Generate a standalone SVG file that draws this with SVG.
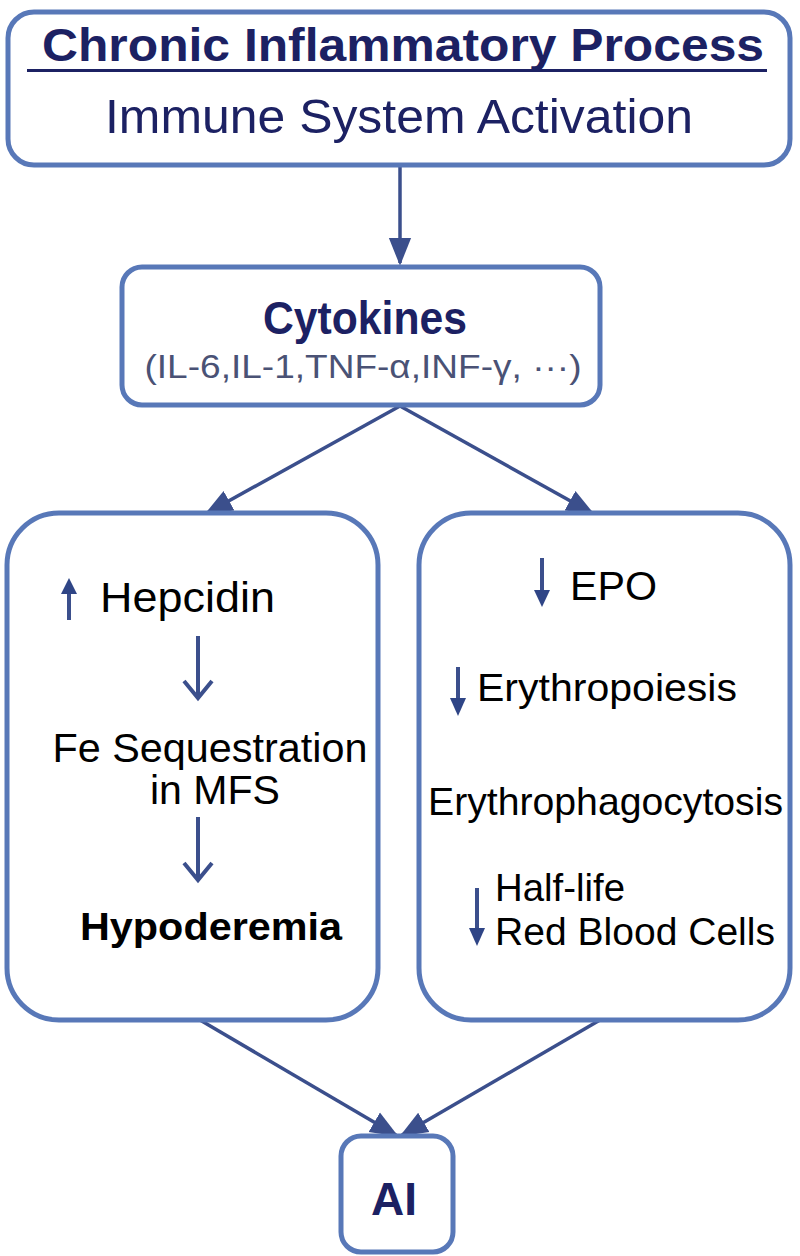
<svg xmlns="http://www.w3.org/2000/svg" width="800" height="1256" viewBox="0 0 800 1256">
<defs>
<style>
.box{fill:#fff;stroke:#5878b8;stroke-width:5}
.con{stroke:#3b4f8c;stroke-width:3.5;fill:none}
.navy{fill:#1c2163;font-family:"Liberation Sans",Arial,sans-serif}
.blk{fill:#000;font-family:"Liberation Sans",Arial,sans-serif}
.ico{stroke:#3b4f8c;stroke-width:4;fill:none}
</style>
<marker id="big" viewBox="0 0 10 10" refX="9" refY="5" markerWidth="8" markerHeight="8" orient="auto">
<path d="M0,1 L10,5 L0,9 z" fill="#3b4f8c"/>
</marker>
</defs>
<rect width="800" height="1256" fill="#fff"/>

<g id="connectors">
<line class="con" x1="400" y1="166" x2="400" y2="263" marker-end="url(#big)"/>
<line class="con" x1="400" y1="406" x2="207" y2="513" marker-end="url(#big)"/>
<line class="con" x1="400" y1="406" x2="592" y2="513" marker-end="url(#big)"/>
<line class="con" x1="200" y1="1020" x2="396" y2="1135" marker-end="url(#big)"/>
<line class="con" x1="600" y1="1020" x2="402" y2="1135" marker-end="url(#big)"/>
</g>

<g id="n-chronic">
<rect class="box" x="8" y="12" width="782" height="153" rx="26"/>
<text class="navy" x="403" y="61" font-size="46" font-weight="bold" text-anchor="middle" textLength="722" lengthAdjust="spacingAndGlyphs">Chronic Inflammatory Process</text>
<rect x="27" y="69" width="740" height="3" fill="#1c2163"/>
<text class="navy" x="399" y="133" font-size="49" text-anchor="middle" textLength="588" lengthAdjust="spacingAndGlyphs">Immune System Activation</text>
</g>

<g id="n-cytokines">
<rect class="box" x="122" y="267" width="478" height="138" rx="20"/>
<text class="navy" x="365" y="334" font-size="46" font-weight="bold" text-anchor="middle" textLength="204" lengthAdjust="spacingAndGlyphs">Cytokines</text>
<text x="363" y="378" font-size="34" text-anchor="middle" fill="#4a5275" font-family="'Liberation Sans',Arial,sans-serif" textLength="437" lengthAdjust="spacingAndGlyphs">(IL-6,IL-1,TNF-α,INF-γ, ···)</text>
</g>

<g id="n-left">
<rect class="box" x="7" y="513" width="371" height="507" rx="52"/>
<line class="ico" x1="69" y1="620" x2="69" y2="588"/>
<path d="M61,594 L69,578 L77,594 z" fill="#2f4586"/>
<text class="blk" x="100" y="612" font-size="42" textLength="175" lengthAdjust="spacingAndGlyphs">Hepcidin</text>
<line class="ico" x1="198" y1="636" x2="198" y2="697"/>
<path class="ico" stroke-width="5" d="M184,681 L198,698 L212,681"/>
<text class="blk" x="210" y="762" font-size="41" text-anchor="middle" textLength="315" lengthAdjust="spacingAndGlyphs">Fe Sequestration</text>
<text class="blk" x="215" y="804" font-size="41" text-anchor="middle" textLength="130" lengthAdjust="spacingAndGlyphs">in MFS</text>
<line class="ico" x1="198" y1="817" x2="198" y2="879"/>
<path class="ico" stroke-width="5" d="M184,863 L198,880 L212,863"/>
<text class="blk" x="211" y="940" font-size="39" font-weight="bold" text-anchor="middle" textLength="262" lengthAdjust="spacingAndGlyphs">Hypoderemia</text>
</g>

<g id="n-right">
<rect class="box" x="419" y="513" width="371" height="507" rx="52"/>
<line class="ico" x1="542" y1="558" x2="542" y2="594"/>
<path d="M534,590 L542,607 L550,590 z" fill="#2f4586"/>
<text class="blk" x="570" y="600" font-size="41" textLength="87" lengthAdjust="spacingAndGlyphs">EPO</text>
<line class="ico" x1="458" y1="667" x2="458" y2="702"/>
<path d="M450,698 L458,716 L466,698 z" fill="#2f4586"/>
<text class="blk" x="477" y="701" font-size="39" textLength="260" lengthAdjust="spacingAndGlyphs">Erythropoiesis</text>
<text class="blk" x="428" y="815" font-size="39" textLength="355" lengthAdjust="spacingAndGlyphs">Erythrophagocytosis</text>
<line class="ico" x1="477" y1="888" x2="477" y2="932"/>
<path d="M469,928 L477,946 L485,928 z" fill="#2f4586"/>
<text class="blk" x="495" y="901" font-size="39" textLength="130" lengthAdjust="spacingAndGlyphs">Half-life</text>
<text class="blk" x="495" y="945" font-size="39" textLength="280" lengthAdjust="spacingAndGlyphs">Red Blood Cells</text>
</g>

<g id="n-ai">
<rect class="box" x="341" y="1136" width="112" height="116" rx="20"/>
<text class="navy" x="394" y="1215" font-size="46" font-weight="bold" text-anchor="middle">AI</text>
</g>
</svg>
